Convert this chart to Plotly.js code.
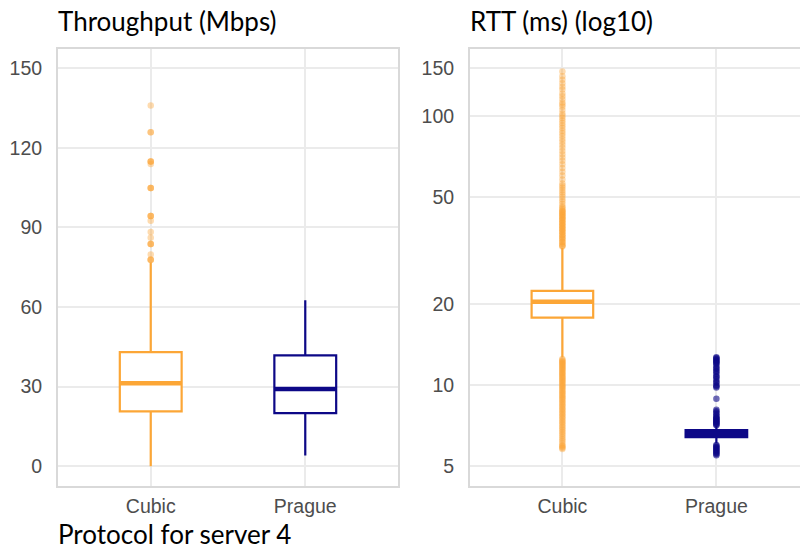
<!DOCTYPE html>
<html>
<head>
<meta charset="utf-8">
<script src="https://cdn.plot.ly/plotly-3.0.1.min.js"></script>
<style>html,body{margin:0;padding:0;background:#fff;}#chart{width:800px;height:551px;}</style>
</head>
<body>
<div id="chart"></div>
<script>
// ---- data ----
const categories = ['Cubic', 'Prague'];
const colors = ['#FCA636', '#0D0887'];

// Throughput (Mbps) box statistics
const tputQ1 = [20.7, 20.0];
const tputMedian = [31.3, 29.1];
const tputQ3 = [43.0, 41.8];
const tputLower = [0.0, 4.1];
const tputUpper = [76.8, 62.6];
const tputOutliersCubic = [136.0, 125.9, 125.9, 114.9, 114.9, 114.9, 113.9, 104.9, 104.9, 104.9, 94.3, 94.3, 94.3, 92.5, 88.3, 86.1, 83.8, 83.8, 83.8, 79.8, 77.8, 77.8, 77.8];
const tputOutliersPrague = [];

// RTT (ms) box statistics
const rttQ1 = [17.8, 6.41];
const rttMedian = [20.4, 6.60];
const rttQ3 = [22.4, 6.81];
const rttLower = [12.7, 6.1];
const rttUpper = [32.3, 7.05];
const rttOutliersCubic = [
  146, 140, 136, 132, 128, 125, 121, 118, 115, 112, 110, 108, 105, 102, 100, 98, 96, 94, 92, 90, 88, 86, 84, 82, 80, 78, 76, 74, 72, 70, 68, 66, 64, 62, 60, 58, 56, 55, 54, 53, 52, 51, 50, 49, 48, 47, 46, 45.5, 45, 44.5, 44, 43.5, 43, 42.5, 42, 41.5, 41, 40.5, 40, 39.5, 39, 38.5, 38, 37.5, 37, 36.5, 36, 35.5, 35, 34.5, 34, 33.5, 33, 32.7,
  44, 43, 42, 41, 40, 39, 38, 37, 36, 35, 34, 33,
  12.5, 12.4, 12.3, 12.2, 12.1, 12.0, 11.9, 11.8, 11.7, 11.6, 11.5, 11.4, 11.3, 11.2, 11.1, 11.0, 10.9, 10.8, 10.7, 10.6, 10.5, 10.4, 10.3, 10.2, 10.1, 10.0, 9.9, 9.8, 9.7, 9.6, 9.5, 9.4, 9.3, 9.2, 9.1, 9.0, 8.9, 8.8, 8.7, 8.6, 8.5, 8.4, 8.3, 8.2, 8.1, 8.0, 7.9, 7.8, 7.7, 7.6, 7.5, 7.4, 7.3, 7.2, 7.1, 7.0, 6.9, 6.8, 6.7, 6.6, 6.5, 6.4, 6.3, 6.2, 6.1, 6.0, 5.95, 5.9, 5.85, 5.8
];
const rttOutliersPrague = [
  12.7, 12.6, 12.5, 12.4, 12.3, 12.2, 12.1, 12.0, 11.8, 11.6, 11.5, 11.3, 11.2, 11.0, 10.8, 10.7, 10.5, 10.3, 10.2, 10.0, 9.9, 9.8, 8.9,
  8.1, 8.0, 7.9, 7.8, 7.7, 7.6, 7.55, 7.5, 7.45, 7.4, 7.35, 7.3, 7.25, 7.2, 7.15, 7.1,
  6.0, 5.95, 5.9, 5.85, 5.8, 5.75, 5.7, 5.65, 5.6, 5.55, 5.5
];

// ticks
const tputTicks = [0, 30, 60, 90, 120, 150];
const rttTicks = [5, 10, 20, 50, 100, 150];
const rttLogTicksShort = [5, 6, 7, 8, 9, 20, 30, 40, 50, 60, 70, 80, 90];
const rttLogTicksLong = [10, 100];

// ---- traces ----
function boxTraces(i, q1, med, q3, lo, hi, xa, ya, fill) {
  const c = categories[i];
  return [
    {type: 'box', x: [c], q1: [q1[i]], median: [med[i]], q3: [q3[i]], lowerfence: [lo[i]], upperfence: [hi[i]],
     width: 0.4, whiskerwidth: 0, boxpoints: false, line: {color: colors[i], width: 2.2}, fillcolor: fill,
     xaxis: xa, yaxis: ya, hoverinfo: 'skip', showlegend: false},
    {type: 'box', x: [c], q1: [med[i]], median: [med[i]], q3: [med[i]], lowerfence: [med[i]], upperfence: [med[i]],
     width: 0.4, whiskerwidth: 0, boxpoints: false, line: {color: colors[i], width: 4.5}, fillcolor: 'rgba(0,0,0,0)',
     xaxis: xa, yaxis: ya, hoverinfo: 'skip', showlegend: false}
  ];
}
function outlierTrace(i, vals, xa, ya, op) {
  return {type: 'scatter', mode: 'markers', x: vals.map(() => categories[i]), y: vals,
    marker: {color: colors[i], size: 6.5, opacity: op, line: {width: 0}},
    xaxis: xa, yaxis: ya, hoverinfo: 'skip', showlegend: false};
}

const traces = [
  outlierTrace(0, tputOutliersCubic, 'x', 'y', 0.4),
  outlierTrace(1, tputOutliersPrague, 'x', 'y', 0.4),
  ...boxTraces(0, tputQ1, tputMedian, tputQ3, tputLower, tputUpper, 'x', 'y', '#ffffff'),
  ...boxTraces(1, tputQ1, tputMedian, tputQ3, tputLower, tputUpper, 'x', 'y', '#ffffff'),
  outlierTrace(0, rttOutliersCubic, 'x2', 'y2', 0.4),
  outlierTrace(1, rttOutliersPrague, 'x2', 'y2', 0.6),
  ...boxTraces(0, rttQ1, rttMedian, rttQ3, rttLower, rttUpper, 'x2', 'y2', '#ffffff'),
  ...boxTraces(1, rttQ1, rttMedian, rttQ3, rttLower, rttUpper, 'x2', 'y2', colors[1])
];

// ---- layout ----
const W = 800, H = 551;
const gridColor = '#ebebeb', borderColor = '#d9d9d9';
const tickFont = {family: 'Liberation Sans', size: 19.5, color: '#4d4d4d'};
const titleFont = {family: 'Lato', size: 26, color: '#000000'};
const yDomain = [(H - 486) / H, (H - 49) / H];

const xBase = {type: 'category', categoryorder: 'array', categoryarray: categories,
  showgrid: true, gridcolor: gridColor, gridwidth: 2, showline: true, linecolor: borderColor, linewidth: 2,
  mirror: true, ticks: 'outside', ticklen: 2, tickcolor: 'rgba(0,0,0,0)', tickfont: tickFont,
  zeroline: false, fixedrange: true, automargin: false};

const layout = {
  width: W, height: H,
  margin: {l: 0, r: 0, t: 0, b: 0},
  paper_bgcolor: '#ffffff', plot_bgcolor: '#ffffff',
  showlegend: false,
  boxmode: 'overlay',
  xaxis: Object.assign({}, xBase, {domain: [58 / W, 398 / W], range: [-0.6, 1.6], anchor: 'y'}),
  xaxis2: Object.assign({}, xBase, {domain: [470 / W, 1], range: [-0.6, 1.543], anchor: 'y2'}),
  yaxis: {domain: yDomain, anchor: 'x', range: [-7.43, 157.25], tickvals: tputTicks, ticktext: tputTicks.map(String),
    showgrid: true, gridcolor: gridColor, gridwidth: 2, showline: true, linecolor: borderColor, linewidth: 2, mirror: true,
    ticks: 'outside', ticklen: 10, tickcolor: 'rgba(0,0,0,0)', tickfont: tickFont, zeroline: false, fixedrange: true, automargin: false},
  yaxis2: {domain: yDomain, anchor: 'x2', type: 'log', range: [0.6258, 2.2475], tickvals: rttTicks, ticktext: rttTicks.map(String),
    showgrid: true, gridcolor: gridColor, gridwidth: 2, showline: true, linecolor: borderColor, linewidth: 2, mirror: false,
    ticks: 'outside', ticklen: 10, tickcolor: 'rgba(0,0,0,0)', tickfont: tickFont, zeroline: false, fixedrange: true, automargin: false},
  yaxis3: {overlaying: 'y2', anchor: 'x2', side: 'left', type: 'log', range: [0.6258, 2.2475], tickvals: rttLogTicksShort,
    ticks: 'inside', ticklen: 4, tickwidth: 2, tickcolor: '#dedede', showticklabels: false, showgrid: false, showline: false,
    zeroline: false, fixedrange: true, automargin: false},
  yaxis4: {overlaying: 'y2', anchor: 'x2', side: 'left', type: 'log', range: [0.6258, 2.2475], tickvals: rttLogTicksLong,
    ticks: 'inside', ticklen: 10, tickwidth: 2, tickcolor: '#dedede', showticklabels: false, showgrid: false, showline: false,
    zeroline: false, fixedrange: true, automargin: false},
  annotations: [
    {text: 'Throughput (Mbps)', xref: 'paper', yref: 'paper', x: 57 / W, y: 1 - 21 / H, xanchor: 'left', yanchor: 'middle',
     showarrow: false, font: titleFont, borderpad: 0},
    {text: 'RTT (ms) (log10)', xref: 'paper', yref: 'paper', x: 469 / W, y: 1 - 21 / H, xanchor: 'left', yanchor: 'middle',
     showarrow: false, font: titleFont, borderpad: 0},
    {text: 'Protocol for server 4', xref: 'paper', yref: 'paper', x: 57 / W, y: 1 - 534 / H, xanchor: 'left', yanchor: 'middle',
     showarrow: false, font: titleFont, borderpad: 0}
  ]
};

Plotly.newPlot('chart', traces, layout, {staticPlot: true, displayModeBar: false});
</script>
</body>
</html>
